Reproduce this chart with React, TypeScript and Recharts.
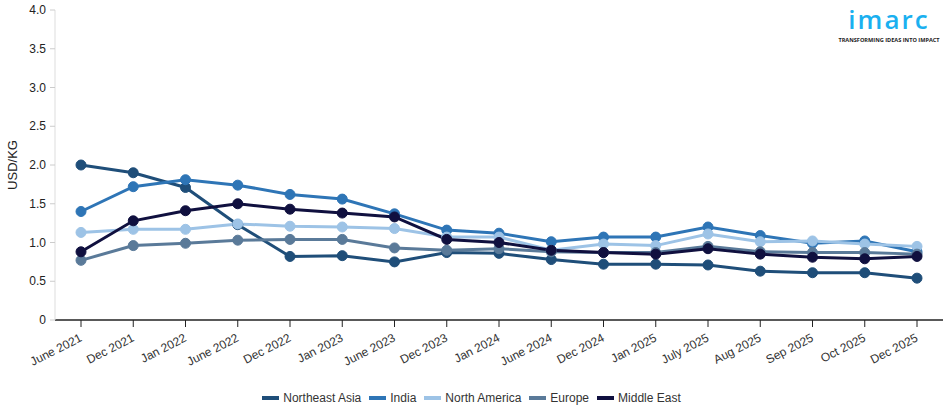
import React from 'react';
import { LineChart, Line, XAxis, YAxis, Legend } from 'recharts';

const periods = [
  'June 2021', 'Dec 2021', 'Jan 2022', 'June 2022', 'Dec 2022', 'Jan 2023', 'June 2023', 'Dec 2023',
  'Jan 2024', 'June 2024', 'Dec 2024', 'Jan 2025', 'July 2025', 'Aug 2025', 'Sep 2025', 'Oct 2025', 'Dec 2025',
];

const northeastAsia = [2.0, 1.9, 1.71, 1.23, 0.82, 0.83, 0.75, 0.87, 0.86, 0.78, 0.72, 0.72, 0.71, 0.63, 0.61, 0.61, 0.54];
const india = [1.4, 1.72, 1.81, 1.74, 1.62, 1.56, 1.37, 1.16, 1.12, 1.01, 1.07, 1.07, 1.2, 1.09, 0.99, 1.02, 0.88];
const northAmerica = [1.13, 1.17, 1.17, 1.24, 1.21, 1.2, 1.18, 1.07, 1.07, 0.9, 0.98, 0.96, 1.11, 1.01, 1.02, 0.98, 0.95];
const europe = [0.77, 0.96, 0.99, 1.03, 1.04, 1.04, 0.93, 0.9, 0.92, 0.88, 0.87, 0.87, 0.95, 0.88, 0.87, 0.87, 0.85];
const middleEast = [0.88, 1.28, 1.41, 1.5, 1.43, 1.38, 1.33, 1.04, 1.0, 0.9, 0.87, 0.85, 0.92, 0.85, 0.81, 0.79, 0.82];

const yTicks = [0, 0.5, 1.0, 1.5, 2.0, 2.5, 3.0, 3.5, 4.0];

const SERIES = [
  { key: 'northeastAsia', name: 'Northeast Asia', color: '#1f4e79' },
  { key: 'india', name: 'India', color: '#2e75b6' },
  { key: 'northAmerica', name: 'North America', color: '#9dc3e6' },
  { key: 'europe', name: 'Europe', color: '#5a7a99' },
  { key: 'middleEast', name: 'Middle East', color: '#10103f' },
];

const data = periods.map((p, i) => ({
  period: p,
  northeastAsia: northeastAsia[i],
  india: india[i],
  northAmerica: northAmerica[i],
  europe: europe[i],
  middleEast: middleEast[i],
}));

const FONT = '"Liberation Sans", Arial, sans-serif';

const XTick = ({ x, y, payload }: any) => (
  <g transform={`translate(${x},${y + 8})`}>
    <text x={0} y={0} dy={4} textAnchor="end" fill="#333" fontSize={12} fontFamily={FONT} transform="rotate(-27)">
      {payload.value}
    </text>
  </g>
);

const YTick = ({ x, y, payload }: any) => (
  <text x={x - 2} y={y} dy={4} textAnchor="end" fill="#222" fontSize={12} fontFamily={FONT}>
    {payload.value === 0 ? '0' : Number(payload.value).toFixed(1)}
  </text>
);

const LegendContent = () => (
  <div style={{ display: 'flex', justifyContent: 'center', gap: 8, paddingTop: 6, fontFamily: FONT, fontSize: 12, color: '#333' }}>
    {SERIES.map((s) => (
      <div key={s.key} style={{ display: 'flex', alignItems: 'center' }}>
        <span style={{ display: 'inline-block', width: 17, height: 4, background: s.color, marginRight: 4 }} />
        {s.name}
      </div>
    ))}
  </div>
);

export default function App() {
  return (
    <div style={{ position: 'absolute', left: 0, top: 0, width: 950, height: 414, background: '#fff' }}>
      <LineChart width={950} height={414} data={data} margin={{ top: 10, right: 7, left: 0, bottom: 5 }}>
        <XAxis
          dataKey="period"
          interval={0}
          height={65}
          padding={{ left: 26, right: 26 }}
          tick={<XTick />}
          tickLine={{ stroke: '#222' }}
          tickSize={7}
          axisLine={{ stroke: '#222', strokeWidth: 1.5 }}
        />
        <YAxis
          domain={[0, 4]}
          ticks={yTicks}
          width={55}
          tick={<YTick />}
          tickLine={{ stroke: '#ccc' }}
          tickSize={5}
          axisLine={{ stroke: '#ddd' }}
          label={{ value: 'USD/KG', angle: -90, position: 'insideLeft', offset: 12, style: { fontFamily: FONT, fontSize: 13, fill: '#222', textAnchor: 'middle' } }}
        />
        <Legend verticalAlign="bottom" height={24} content={<LegendContent />} />
        {SERIES.map((s) => (
          <Line
            key={s.key}
            dataKey={s.key}
            name={s.name}
            stroke={s.color}
            strokeWidth={3}
            dot={{ r: 5, fill: s.color, stroke: s.color, strokeWidth: 1 }}
            isAnimationActive={false}
          />
        ))}
      </LineChart>
      <div style={{ position: 'absolute', left: 836, top: 2, width: 106, height: 34, textAlign: 'center', fontFamily: '"Open Sans", sans-serif', color: '#1ab0f0', fontSize: 26, fontWeight: 600, lineHeight: '34px', letterSpacing: 2 }}>
        imarc
      </div>
      <div style={{ position: 'absolute', left: 836, top: 37, width: 106, textAlign: 'center', fontFamily: '"Open Sans", sans-serif', fontSize: 5.6, fontWeight: 700, color: '#222', lineHeight: '7px', whiteSpace: 'nowrap' }}>
        TRANSFORMING IDEAS INTO IMPACT
      </div>
    </div>
  );
}
